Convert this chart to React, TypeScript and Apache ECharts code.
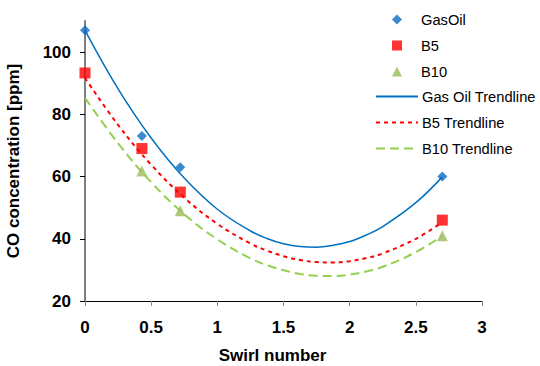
import React, { useEffect, useRef } from "react";
import * as echarts from "echarts";

const swirlMeasured = [0, 0.43, 0.72, 2.7];
const gasOilValues = [107, 73, 63, 60];
const b5Values = [93.3, 69, 55, 46];
const b10Swirl = [0.43, 0.72, 2.7];
const b10Values = [61.8, 49, 41];

const trendSwirl = [0, 0.25, 0.5, 0.75, 1, 1.25, 1.375, 1.5, 1.625, 1.75, 1.875, 2, 2.125, 2.25, 2.5, 2.7];
const gasOilTrend = [107, 88.2, 72.4, 59.5, 49.5, 42.5, 40.1, 38.4, 37.5, 37.3, 37.9, 39.1, 41.2, 43.9, 51.6, 59.9];
const b5Trend = [91.7, 76.6, 63.8, 53.2, 44.8, 38.5, 36.2, 34.4, 33.2, 32.5, 32.4, 32.8, 33.8, 35.3, 40.0, 45.3];
const b10Trend = [85.3, 70.7, 58.2, 47.9, 39.8, 33.7, 31.5, 29.9, 28.7, 28.1, 28.0, 28.5, 29.5, 31.0, 35.7, 40.9];

const yTicks = [20, 40, 60, 80, 100];
const markerNames = ["GasOil", "B5", "B10"];
const trendNames = ["Gas Oil Trendline", "B5 Trendline", "B10 Trendline"];

const pair = (xs: number[], ys: number[]) => xs.map((x, i) => [x, ys[i]]);

export default function App() {
  const ref = useRef<HTMLDivElement>(null);
  useEffect(() => {
    if (!ref.current) return;
    const chart = echarts.init(ref.current, undefined, { renderer: "svg" });
    const font = "'Liberation Sans', Arial, sans-serif";
    chart.setOption({
      animation: false,
      backgroundColor: "#ffffff",
      textStyle: { fontFamily: font },
      grid: { left: 85, right: 58, top: 21, bottom: 65, outerBoundsMode: "none", containLabel: false },
      legend: [
        {
          orient: "vertical",
          left: 392,
          top: 12,
          padding: 0,
          itemWidth: 10,
          itemHeight: 10,
          itemGap: 11,
          data: markerNames,
          textStyle: { fontFamily: font, fontSize: 14.7, color: "#000", padding: [0, 0, 0, 14] },
        },
        {
          orient: "vertical",
          left: 375,
          top: 89,
          padding: 0,
          itemWidth: 42,
          itemHeight: 10,
          itemGap: 11,
          data: trendNames,
          itemStyle: { color: "transparent", borderWidth: 0 },
          textStyle: { fontFamily: font, fontSize: 14.7, color: "#000", padding: [0, 0, 0, -1] },
        },
      ],
      xAxis: {
        type: "value",
        min: 0,
        max: 3,
        interval: 0.5,
        name: "Swirl number",
        nameLocation: "middle",
        nameGap: 46,
        nameTextStyle: { fontFamily: font, fontSize: 17, fontWeight: "bold", color: "#000", padding: [0, 22, 0, 0] },
        axisLine: { lineStyle: { color: "#000", width: 1 } },
        axisTick: { show: true, length: 5, lineStyle: { color: "#888" } },
        axisLabel: { margin: 18, fontFamily: font, fontSize: 17, fontWeight: "bold", color: "#000" },
        splitLine: { show: false },
      },
      yAxis: {
        type: "value",
        min: 20,
        max: 110,
        name: "CO concentration [ppm]",
        nameLocation: "middle",
        nameGap: 63,
        nameTextStyle: { fontFamily: font, fontSize: 17, fontWeight: "bold", color: "#000" },
        axisLine: { show: true, lineStyle: { color: "#7f7f7f", width: 2 } },
        axisTick: { show: true, length: 5, customValues: yTicks, lineStyle: { color: "#000" } },
        axisLabel: { margin: 14, customValues: yTicks, fontFamily: font, fontSize: 17, fontWeight: "bold", color: "#000" },
        splitLine: { show: false },
      },
      series: [
        {
          name: "Gas Oil Trendline",
          type: "line",
          smooth: 0.4,
          symbol: "none",
          data: pair(trendSwirl, gasOilTrend),
          lineStyle: { color: "#0070C0", width: 1.5, type: "solid" },
          itemStyle: { color: "#0070C0" },
          z: 2,
        },
        {
          name: "B5 Trendline",
          type: "line",
          smooth: 0.4,
          symbol: "none",
          data: pair(trendSwirl, b5Trend),
          lineStyle: { color: "#ff0000", width: 2, type: [4, 4] },
          itemStyle: { color: "#ff0000" },
          z: 2,
        },
        {
          name: "B10 Trendline",
          type: "line",
          smooth: 0.4,
          symbol: "none",
          data: pair(trendSwirl, b10Trend),
          lineStyle: { color: "#92D050", width: 2, type: [9, 5] },
          itemStyle: { color: "#92D050" },
          z: 2,
        },
        {
          name: "GasOil",
          type: "scatter",
          symbol: "diamond",
          symbolSize: 10,
          data: pair(swirlMeasured, gasOilValues),
          itemStyle: { color: "#0A6CC4" },
          z: 5,
        },
        {
          name: "B5",
          type: "scatter",
          symbol: "rect",
          symbolSize: 11,
          data: pair(swirlMeasured, b5Values),
          itemStyle: { color: "#ff0000" },
          z: 5,
        },
        {
          name: "B10",
          type: "scatter",
          symbol: "triangle",
          symbolSize: 11,
          data: pair(b10Swirl, b10Values),
          itemStyle: { color: "#9BBB59" },
          z: 5,
        },
      ],
    });
    return () => chart.dispose();
  }, []);
  return <div ref={ref} style={{ position: "absolute", left: 0, top: 0, width: 540, height: 366 }} />;
}
